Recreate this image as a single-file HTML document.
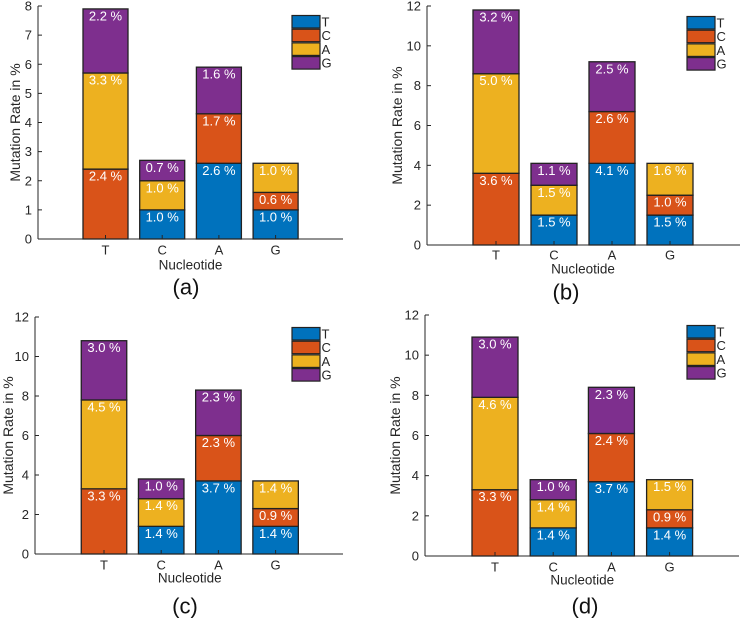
<!DOCTYPE html>
<html><head><meta charset="utf-8"><style>
html,body{margin:0;padding:0;background:#fff;}
svg{display:block;font-family:"Liberation Sans",sans-serif;}
</style></head><body>
<svg id="fig" width="740" height="621" viewBox="0 0 740 621"></svg>
<script>
const categories = ["T","C","A","G"];
const seriesNames = ["T","C","A","G"];
const yTicksA = [0,1,2,3,4,5,6,7,8];
const yTicks12 = [0,2,4,6,8,10,12];
// values per series (T,C,A,G) across bars T,C,A,G
const aT = [0,1.0,2.6,1.0], aC = [2.4,0,1.7,0.6], aA = [3.3,1.0,0,1.0], aG = [2.2,0.7,1.6,0];
const bT = [0,1.5,4.1,1.5], bC = [3.6,0,2.6,1.0], bA = [5.0,1.5,0,1.6], bG = [3.2,1.1,2.5,0];
const cT = [0,1.4,3.7,1.4], cC = [3.3,0,2.3,0.9], cA = [4.5,1.4,0,1.4], cG = [3.0,1.0,2.3,0];
const dT = [0,1.4,3.7,1.4], dC = [3.3,0,2.4,0.9], dA = [4.6,1.4,0,1.5], dG = [3.0,1.0,2.3,0];

const colors = ["#0072BD","#D95319","#EDB120","#7E2F8E"];
const NS = "http://www.w3.org/2000/svg";
const svg = document.getElementById("fig");
function mk(tag, attrs, parent){const e=document.createElementNS(NS,tag);for(const k in attrs)e.setAttribute(k,attrs[k]);(parent||svg).appendChild(e);return e;}

const panels = [
 {id:"a",series:[aT,aC,aA,aG],ticks:yTicksA,ymax:8,ax:38,y0:239,top:6,xEnd:343,first:105.5,step:56.7,bw:45,lx:292,ly:15,tickY:250,nucY:265,lab:[186,287],ylx:15},
 {id:"b",series:[bT,bC,bA,bG],ticks:yTicks12,ymax:12,ax:427,y0:245,top:6,xEnd:740,first:496,step:58,bw:46,lx:687,ly:16,tickY:255,nucY:269,lab:[566,292],ylx:397},
 {id:"c",series:[cT,cC,cA,cG],ticks:yTicks12,ymax:12,ax:35,y0:554,top:317,xEnd:343,first:104,step:57.2,bw:45.5,lx:292,ly:327,tickY:565,nucY:578,lab:[185,606],ylx:8},
 {id:"d",series:[dT,dC,dA,dG],ticks:yTicks12,ymax:12,ax:425,y0:556,top:315,xEnd:739,first:495,step:58.2,bw:46,lx:687,ly:325,tickY:567,nucY:580,lab:[585,606],ylx:395}
];

panels.forEach(p=>{
  const g = mk("g",{});
  
  
  const yS = v => p.y0 - v/p.ymax*(p.y0-p.top);
  const xS = i => p.first + i*p.step;
  const yax = mk("line",{x1:p.ax,y1:p.top,x2:p.ax,y2:p.y0,stroke:"#262626","stroke-width":1},g);
  
  
  p.ticks.forEach(t=>{
    const y=yS(t);
    mk("line",{x1:p.ax,y1:y,x2:p.ax+4,y2:y,stroke:"#262626","stroke-width":1},g);
    const tl=mk("text",{x:p.ax-6,y:y,"text-anchor":"end","dominant-baseline":"central","font-size":"13",fill:"#262626"},g);
    tl.textContent=t;
    
    
  });
  categories.forEach((cat,i)=>{
    let acc=0;
    const cx=xS(i);
    p.series.forEach((ser,s)=>{
      const v=ser[i];
      if(v<=0) return;
      const yb=yS(acc), yt=yS(acc+v);
      const r=mk("rect",{x:cx-p.bw/2,y:yt,width:p.bw,height:yb-yt,fill:colors[s],stroke:"#222","stroke-width":1.3},g);
      
      
      const t=mk("text",{x:cx,y:yt+11.5,"text-anchor":"middle","font-size":"13",fill:"#fff"},g);
      t.textContent=v.toFixed(1)+" %";
      
      
      acc+=v;
    });
    mk("line",{x1:cx,y1:p.y0,x2:cx,y2:p.y0-4,stroke:"#262626","stroke-width":1},g);
    const xl=mk("text",{x:cx,y:p.tickY,"text-anchor":"middle","dominant-baseline":"central","font-size":"13",fill:"#262626"},g);
    xl.textContent=cat;
    
    
  });
  const xax = mk("line",{x1:p.ax,y1:p.y0,x2:p.xEnd,y2:p.y0,stroke:"#262626","stroke-width":1},g);
  
  
  const xt=mk("text",{x:(p.first+p.first+3*p.step)/2,y:p.nucY,"text-anchor":"middle","dominant-baseline":"central","font-size":"13.5",fill:"#262626"},g);
  xt.textContent="Nucleotide";
  
  
  const ym=(p.y0+p.top)/2;
  const yt=mk("text",{x:p.ylx,y:ym,"text-anchor":"middle","dominant-baseline":"central","font-size":"14",fill:"#262626",transform:`rotate(-90 ${p.ylx} ${ym})`},g);
  yt.textContent="Mutation Rate in %";
  
  
  seriesNames.forEach((n,s)=>{
    const y=p.ly+s*13.7;
    const r=mk("rect",{x:p.lx,y:y+0.5,width:28,height:12.5,fill:colors[s],stroke:"#222","stroke-width":1.2},g);
    
    
    const t=mk("text",{x:p.lx+29.5,y:y+7,"dominant-baseline":"central","font-size":"13",fill:"#262626"},g);
    t.textContent=n;
    
    
  });
  const pl=mk("text",{x:p.lab[0],y:p.lab[1],"text-anchor":"middle","dominant-baseline":"central","font-size":"22",fill:"#111"},g);
  pl.textContent="("+p.id+")";
  
  
});
</script>
</body></html>
